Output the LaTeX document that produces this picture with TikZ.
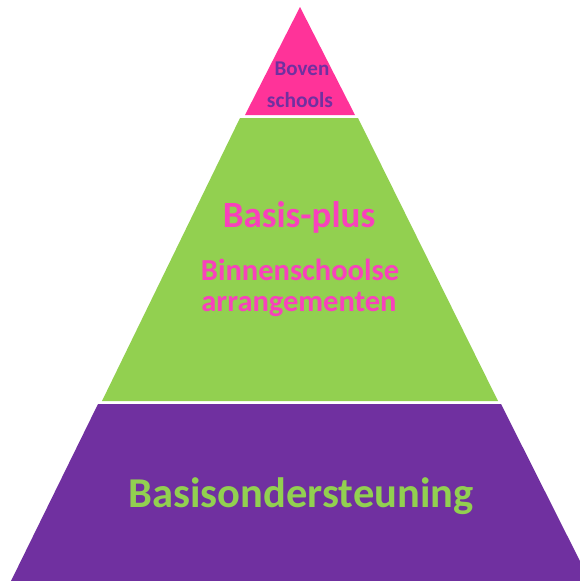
\documentclass[tikz,border=0pt]{standalone}
\usepackage{fontspec}
\setmainfont{Carlito}
\usepackage{xcolor}
\definecolor{toppink}{HTML}{FF3399}
\definecolor{textpink}{HTML}{F841BC}
\definecolor{midgreen}{HTML}{92D050}
\definecolor{basepurple}{HTML}{7030A0}

\begin{document}
\begin{tikzpicture}[x=1pt,y=-1pt]
	\tikzset{lbl/.style = {anchor=base, inner sep=0pt, font=\bfseries}}
	\useasboundingbox (0,0) rectangle (580,581);
	\clip (0,0) rectangle (580,581);
    % layers
	\fill[toppink] (300,7) -- (355,115) -- (245,115) -- cycle;
	\fill[midgreen] (240,118) -- (358,118) -- (498,401) -- (102,401) -- cycle;
	\fill[basepurple] (98,404) -- (501,404) -- (590,581) -- (11,581) -- cycle;
    % texts
	\node[lbl, text=basepurple] (boven) at (302,75) {\fontsize{21}{24}\selectfont Boven};
	\node[lbl, text=basepurple] (schools) at (300,107) {\fontsize{21.5}{24}\selectfont schools};
	\node[lbl, text=textpink] (plus) at (299,227) {\fontsize{37}{40}\selectfont Basis-plus};
	\node[lbl, text=textpink] (binnen) at (300,280) {\fontsize{30.5}{34}\selectfont Binnenschoolse};
	\node[lbl, text=textpink] (arrang) at (299,311) {\fontsize{30.5}{34}\selectfont arrangementen};
	\node[lbl, text=midgreen] (basis) at (301,507) {\fontsize{42.5}{48}\selectfont Basisondersteuning};
\end{tikzpicture}
\end{document}
